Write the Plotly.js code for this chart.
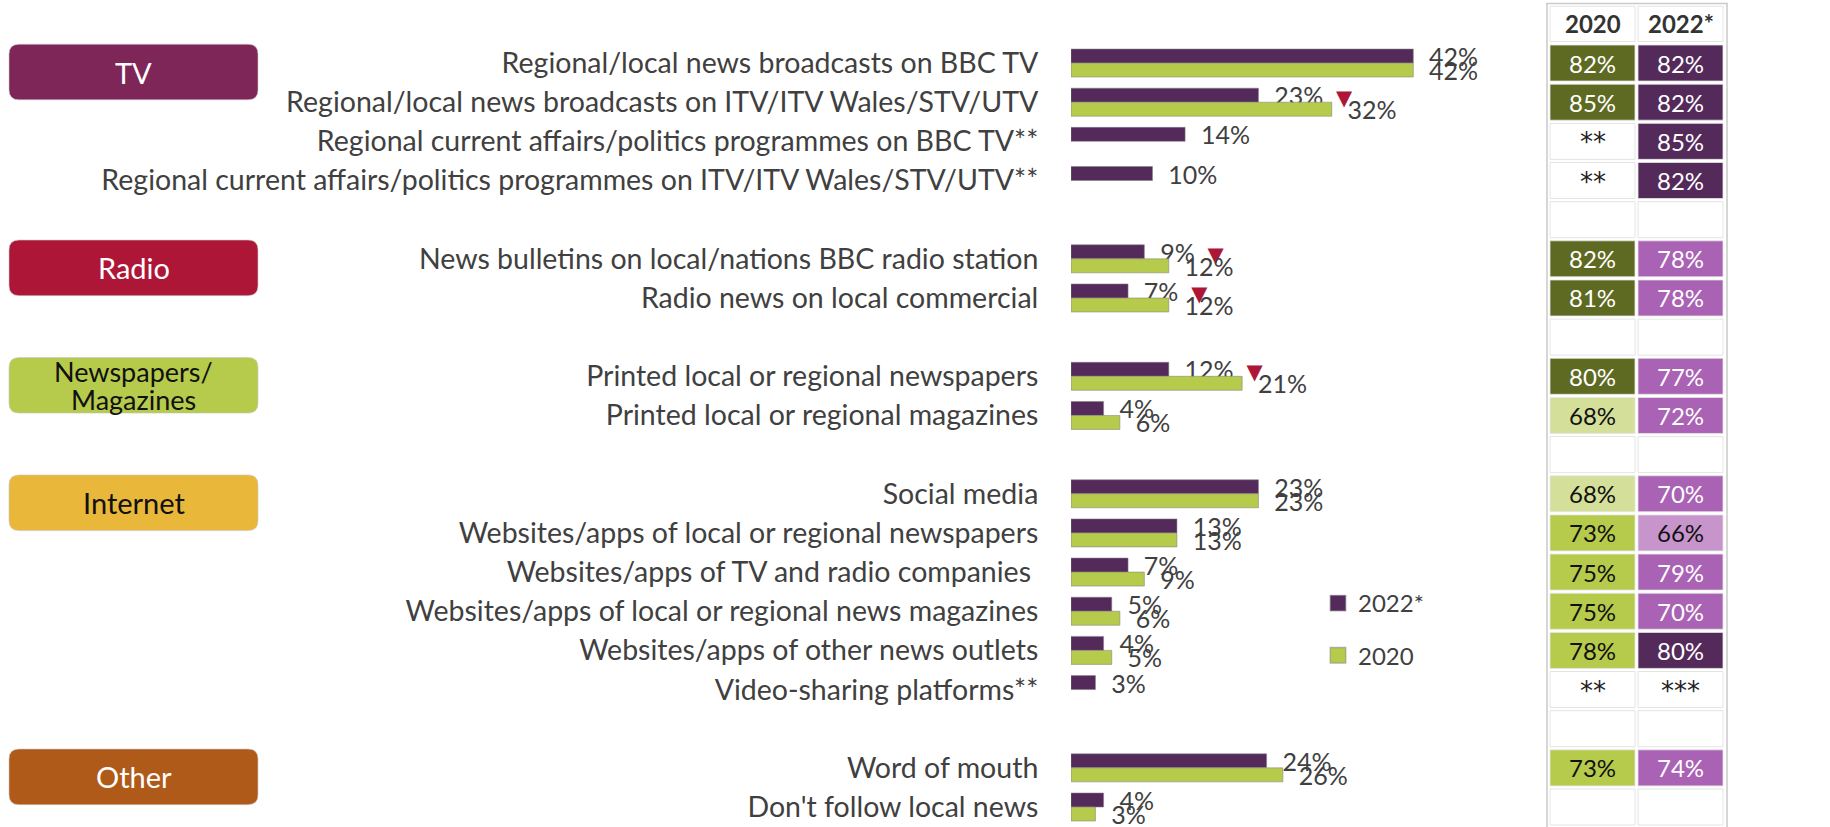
<!DOCTYPE html>
<html><head><meta charset="utf-8">
<script src="https://cdn.plot.ly/plotly-3.0.1.min.js"></script>
<style>html,body{margin:0;padding:0;background:#fff}#chart{width:1830px;height:827px}</style>
</head><body><div id="chart"></div>
<script>
// ---------- DATA ----------
const rowLabels = [
  "Regional/local news broadcasts on BBC TV",
  "Regional/local news broadcasts on ITV/ITV Wales/STV/UTV",
  "Regional current affairs/politics programmes on BBC TV**",
  "Regional current affairs/politics programmes on ITV/ITV Wales/STV/UTV**",
  "",
  "News bulletins on local/nations BBC radio station",
  "Radio news on local commercial",
  "",
  "Printed local or regional newspapers",
  "Printed local or regional magazines",
  "",
  "Social media",
  "Websites/apps of local or regional newspapers",
  "Websites/apps of TV and radio companies\u00A0",
  "Websites/apps of local or regional news magazines",
  "Websites/apps of other news outlets",
  "Video-sharing platforms**",
  "",
  "Word of mouth",
  "Don't follow local news"
];
const rowGroup = ["TV","TV","TV","TV",null,"Radio","Radio",null,"Newspapers/<br>Magazines","Newspapers/<br>Magazines",null,
  "Internet","Internet","Internet","Internet","Internet","Internet",null,"Other","Other"];
const groupNames = ["TV","Radio","Newspapers/<br>Magazines","Internet","Other"];
const seriesNames = ["2022*","2020"];
const values2022 = [42,23,14,10,null,9,7,null,12,4,null,23,13,7,5,4,3,null,24,4];
const values2020 = [42,32,null,null,null,12,12,null,21,6,null,23,13,9,6,5,null,null,26,3];
const sigDecrease = [false,true,false,false,false,true,true,false,true,false,false,false,false,false,false,false,false,false,false,false];
const tableHeaders = ["2020","2022*"];
const table2020 = ["82%","85%","**","**","","82%","81%","","80%","68%","","68%","73%","75%","75%","78%","**","","73%",""];
const table2022 = ["82%","82%","85%","82%","","78%","78%","","77%","72%","","70%","66%","79%","70%","80%","***","","74%",""];

// ---------- STYLE ----------
const W = 1830, H = 827;
const px = v => v / W;
const FONT = "Lato, 'Open Sans', sans-serif";
const PURPLE = "#542A5A", GREEN = "#B6CA4C", RED = "#AE1638", TXT = "#404040";
const groupColors = {"TV":"#7F2659","Radio":"#AE1638","Newspapers/<br>Magazines":"#B6CA4C","Internet":"#E9B73A","Other":"#B05A19"};
const groupText = {"TV":"#ffffff","Radio":"#ffffff","Newspapers/<br>Magazines":"#111111","Internet":"#111111","Other":"#ffffff"};

const rowIdx = rowLabels.map((_, i) => i);
const NB = "\u00A0\u00A0";
const tri = "\u00A0\u00A0<span style=\"color:" + RED + ";font-size:21px;font-family:'DejaVu Sans'\">\u25BC</span>";
const text2022 = values2022.map((v, i) => v == null ? "" : NB + v + "%" + (sigDecrease[i] ? tri : ""));
const text2020 = values2020.map(v => v == null ? "" : NB + v + "%");

const barCommon = {
  type: "bar", orientation: "h", y: rowIdx, textposition: "outside", cliponaxis: false,
  constraintext: "none", hoverinfo: "skip",
  textfont: {family: FONT, size: 25, color: TXT}
};
const traces = [
  Object.assign({}, barCommon, {name: seriesNames[0], x: values2022, text: text2022, legendgroup: "a",
    marker: {color: PURPLE, line: {color: "rgba(130,130,130,0.55)", width: 1}}}),
  Object.assign({}, barCommon, {name: seriesNames[1], x: values2020, text: text2020, legendgroup: "b",
    marker: {color: GREEN, line: {color: "rgba(130,130,130,0.55)", width: 1}}})
];

const shapes = [], annotations = [];

// category boxes
const BX0 = px(9), BX1 = px(258), RX = px(10), RY = 10 / 39.14;
groupNames.forEach(g => {
  const first = rowGroup.indexOf(g);
  const y0 = first - 0.48, y1 = first + 0.94;
  const path = `M${BX0+RX},${y0} L${BX1-RX},${y0} Q${BX1},${y0} ${BX1},${y0+RY} L${BX1},${y1-RY} Q${BX1},${y1} ${BX1-RX},${y1} ` +
               `L${BX0+RX},${y1} Q${BX0},${y1} ${BX0},${y1-RY} L${BX0},${y0+RY} Q${BX0},${y0} ${BX0+RX},${y0} Z`;
  shapes.push({type: "path", xref: "paper", yref: "y", path: path, fillcolor: groupColors[g],
    line: {color: "rgba(200,200,200,0.6)", width: 1}, layer: "below"});
  const lines = g.split("<br>");
  lines.forEach((ln, k) => {
    annotations.push({xref: "paper", yref: "y", x: px(133.5), y: (y0 + y1) / 2,
      yshift: lines.length > 1 ? (k === 0 ? 14 : -14) : 0, text: ln, showarrow: false,
      xanchor: "center", yanchor: "middle", font: {family: FONT, size: lines.length > 1 ? 27 : 29, color: groupText[g]}});
  });
});

// table
const colX = [[1550, 1635], [1638, 1723]];
shapes.push({type: "rect", xref: "paper", yref: "paper", x0: px(1547), x1: px(1727), y0: -0.02, y1: 1 - 3.5 / H,
  line: {color: "#c9c9c9", width: 1.5}, fillcolor: "rgba(0,0,0,0)"});
function cellStyle(col, s) {
  const v = parseFloat(s);
  if (isNaN(v)) return {fill: "#ffffff", font: "#222222"};
  if (col === 0) {
    if (v >= 80) return {fill: "#5E6A22", font: "#ffffff"};
    if (v >= 70) return {fill: "#B6CA4C", font: "#111111"};
    return {fill: "#D4E09A", font: "#111111"};
  }
  if (v >= 80) return {fill: "#542A5A", font: "#ffffff"};
  if (v >= 67) return {fill: "#AA62B4", font: "#ffffff"};
  return {fill: "#C795CC", font: "#111111"};
}
tableHeaders.forEach((h, c) => {
  shapes.push({type: "rect", xref: "paper", yref: "y", x0: px(colX[c][0]), x1: px(colX[c][1]), y0: -1.45, y1: -0.55,
    fillcolor: "#ffffff", line: {color: "#e4e4e4", width: 1}});
  annotations.push({xref: "paper", yref: "y", x: px((colX[c][0] + colX[c][1]) / 2), y: -1, text: "<b>" + h + "</b>",
    showarrow: false, xanchor: "center", yanchor: "middle", font: {family: FONT, size: 24, color: "#333333"}});
});
[table2020, table2022].forEach((col, c) => {
  col.forEach((s, r) => {
    const st = cellStyle(c, s);
    const isNum = s && !isNaN(parseFloat(s));
    shapes.push({type: "rect", xref: "paper", yref: "y", x0: px(colX[c][0]), x1: px(colX[c][1]), y0: r - 0.46, y1: r + 0.46,
      fillcolor: st.fill, line: {color: isNum ? "rgba(230,230,230,0.8)" : "#e4e4e4", width: 1}});
    if (s) annotations.push({xref: "paper", yref: "y", x: px((colX[c][0] + colX[c][1]) / 2), y: r, text: s,
      showarrow: false, xanchor: "center", yanchor: "middle", yshift: isNum ? 0 : -1,
      font: {family: isNum ? FONT : "'DejaVu Sans', sans-serif", size: isNum ? 24 : 26, color: st.font}});
  });
});

const layout = {
  width: W, height: H, margin: {l: 0, r: 0, t: 0, b: 0}, paper_bgcolor: "#fff", plot_bgcolor: "rgba(0,0,0,0)",
  barmode: "group", bargap: 0.285, bargroupgap: 0,
  xaxis: {domain: [px(1071), px(1478.5)], range: [0, 50], visible: false, fixedrange: true},
  yaxis: {domain: [0.4 / H, 1 - 4.3 / H], range: [19.5, -1.5], tickvals: rowIdx, ticktext: rowLabels,
    ticks: "outside", ticklen: 26, tickcolor: "rgba(0,0,0,0)", showgrid: false, zeroline: false, showline: false,
    tickfont: {family: FONT, size: 28.5, color: TXT}, automargin: false, fixedrange: true},
  showlegend: true,
  legend: {x: px(1318), y: 1 - 581 / H, xanchor: "left", yanchor: "top", traceorder: "grouped", tracegroupgap: 18,
    font: {family: FONT, size: 24, color: TXT}, bgcolor: "rgba(0,0,0,0)"},
  shapes: shapes, annotations: annotations
};
Plotly.newPlot("chart", traces, layout, {displayModeBar: false, staticPlot: true}).then(gd => {
  // enlarge the legend swatches to match the reference's square keys (keep Plotly's own translate)
  gd.querySelectorAll(".legendpoints path").forEach(p => {
    const t = p.getAttribute("transform") || "";
    p.setAttribute("transform", (t + " scale(1.3)").trim());
  });
});
</script></body></html>
